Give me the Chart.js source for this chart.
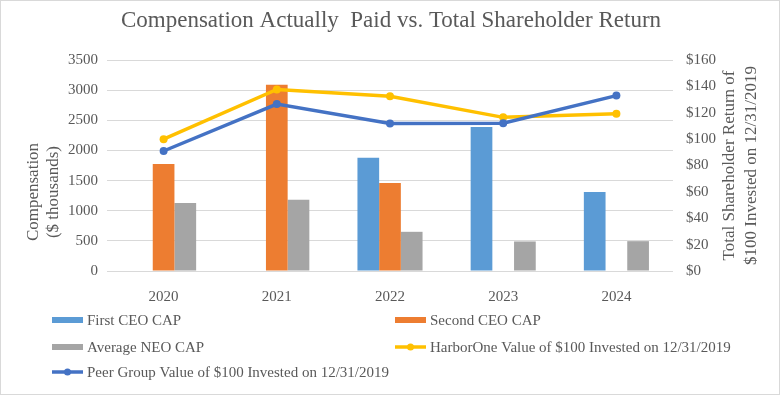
<!DOCTYPE html>
<html>
<head>
<meta charset="utf-8">
<script src="https://cdn.jsdelivr.net/npm/chart.js@4.4.0/dist/chart.umd.min.js"></script>
<style>
  html, body { margin: 0; padding: 0; background: #fff; }
  #wrap { width: 780px; height: 395px; }
</style>
</head>
<body>
<div id="wrap"><canvas id="myChart" width="780" height="395"></canvas></div>
<script>
// chart data
let years = ['2020', '2021', '2022', '2023', '2024'];
let firstCeoCap = [null, null, 1880, 2390, 1310];
let secondCeoCap = [1775, 3090, 1460, null, null];
let avgNeoCap = [1130, 1180, 650, 490, 495];
let harborOneTsr = [100, 137.7, 132.5, 116.5, 119.3];
let peerGroupTsr = [91, 126.6, 111.8, 112, 133];
let leftTicks = [0, 500, 1000, 1500, 2000, 2500, 3000, 3500];
let rightTicks = [0, 20, 40, 60, 80, 100, 120, 140, 160];

let chartTitle = 'Compensation Actually  Paid vs. Total Shareholder Return';
let leftTitle = ['Compensation', '($ thousands)'];
let rightTitle = ['Total Shareholder Return of', '$100 Invested on 12/31/2019'];

const serif = "'Liberation Serif', 'Times New Roman', serif";
const txt = '#595959';

// title, axis titles, legend and frame drawn by hand to match the Excel layout
const decor = {
  id: 'decor',
  afterDraw(chart) {
    const ctx = chart.ctx;
    const area = chart.chartArea;
    ctx.save();
    ctx.fillStyle = txt;
    ctx.textBaseline = 'middle';

    ctx.font = '23px ' + serif;
    ctx.textAlign = 'center';
    ctx.fillText(chartTitle, 391, 21);

    ctx.font = '17px ' + serif;
    const midL = 192, midR = (area.top + area.bottom) / 2;
    ctx.save();
    ctx.translate(34, midL);
    ctx.rotate(-Math.PI / 2);
    ctx.fillText(leftTitle[0], 0, 0);
    ctx.fillText(leftTitle[1], 0, 20);
    ctx.restore();
    ctx.save();
    ctx.translate(730, midR);
    ctx.rotate(-Math.PI / 2);
    ctx.fillText(rightTitle[0], 0, 0);
    ctx.fillText(rightTitle[1], 0, 22);
    ctx.restore();

    // legend
    const slots = [[52, 320], [395, 320], [52, 347], [395, 347], [52, 372]];
    ctx.font = '15px ' + serif;
    ctx.textAlign = 'left';
    chart.data.datasets.forEach((ds, i) => {
      const [x, y] = slots[i];
      if (ds.type === 'line') {
        ctx.strokeStyle = ds.borderColor;
        ctx.lineWidth = 3.5;
        ctx.beginPath();
        ctx.moveTo(x, y);
        ctx.lineTo(x + 31, y);
        ctx.stroke();
        ctx.fillStyle = ds.borderColor;
        ctx.beginPath();
        ctx.arc(x + 15.5, y, 3.5, 0, Math.PI * 2);
        ctx.fill();
      } else {
        ctx.fillStyle = ds.backgroundColor;
        ctx.fillRect(x, y - 3, 31, 6);
      }
      ctx.fillStyle = txt;
      ctx.fillText(ds.label, x + 35, y + 1);
    });

    ctx.strokeStyle = '#d9d9d9';
    ctx.lineWidth = 1;
    ctx.strokeRect(0.5, 0.5, 779, 394);
    ctx.restore();
  }
};

var ctx = document.getElementById('myChart').getContext('2d');
var chart = new Chart(ctx, {
  data: {
    labels: years,
    datasets: [
      { type: 'bar', label: 'First CEO CAP', data: firstCeoCap, backgroundColor: '#5B9BD5', yAxisID: 'y', order: 2 },
      { type: 'bar', label: 'Second CEO CAP', data: secondCeoCap, backgroundColor: '#ED7D31', yAxisID: 'y', order: 2 },
      { type: 'bar', label: 'Average NEO CAP', data: avgNeoCap, backgroundColor: '#A5A5A5', yAxisID: 'y', order: 2 },
      { type: 'line', label: 'HarborOne Value of $100 Invested on 12/31/2019', data: harborOneTsr,
        borderColor: '#FFC000', backgroundColor: '#FFC000', borderWidth: 3.5, pointRadius: 4,
        pointBorderWidth: 0, yAxisID: 'y1', order: 1 },
      { type: 'line', label: 'Peer Group Value of $100 Invested on 12/31/2019', data: peerGroupTsr,
        borderColor: '#4472C4', backgroundColor: '#4472C4', borderWidth: 3.5, pointRadius: 4,
        pointBorderWidth: 0, yAxisID: 'y1', order: 0 }
    ]
  },
  options: {
    responsive: false,
    animation: false,
    layout: { padding: { top: 60, bottom: 94, left: 0, right: 0 } },
    datasets: { bar: { categoryPercentage: 0.575, barPercentage: 1.0 } },
    plugins: { legend: { display: false }, title: { display: false }, tooltip: { enabled: false } },
    scales: {
      x: {
        grid: { display: false },
        border: { display: false },
        ticks: { color: txt, font: { family: serif, size: 15 }, padding: 9 },
        afterFit(s) { s.height = 30; }
      },
      y: {
        position: 'left',
        min: 0, max: 3500,
        afterBuildTicks(s) { s.ticks = leftTicks.map(v => ({ value: v })); },
        grid: { color: '#d9d9d9', lineWidth: 1, drawTicks: false },
        border: { display: false },
        ticks: { color: txt, font: { family: serif, size: 15 }, padding: 9, callback: v => String(v) },
        afterFit(s) { s.width = 107; }
      },
      y1: {
        position: 'right',
        min: 0, max: 160,
        afterBuildTicks(s) { s.ticks = rightTicks.map(v => ({ value: v })); },
        grid: { display: false, drawTicks: false },
        border: { display: false },
        ticks: { color: txt, font: { family: serif, size: 15 }, padding: 13, callback: v => '$' + v },
        afterFit(s) { s.width = 107; }
      }
    }
  },
  plugins: [decor]
});
</script>
</body>
</html>
